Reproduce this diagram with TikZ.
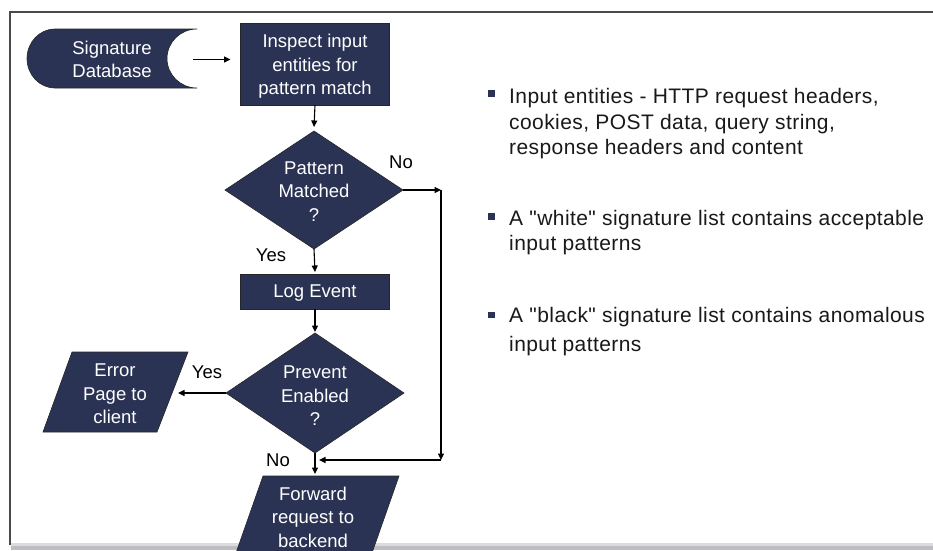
\documentclass[tikz,border=0pt]{standalone}
\usepackage{fontspec}
\setmainfont{Liberation Sans}
\newfontfamily\rtfont[LetterSpace=2.0]{Liberation Sans}
\usetikzlibrary{arrows.meta,shapes.geometric}
\definecolor{navy}{HTML}{2B3354}
\definecolor{framec}{HTML}{4A4A4A}
\definecolor{bandc}{HTML}{BDBDC4}
\definecolor{bandtop}{HTML}{DCDCDC}
\tikzset{
  flowfill/.style={fill=navy, draw=black!85, line width=0.6pt},
  boxnode/.style={flowfill, rectangle, inner sep=0pt, outer sep=0pt},
  dianode/.style={flowfill, diamond, inner sep=0pt, outer sep=0pt},
  txtw/.style={text=white, align=center, inner sep=0pt, font=\fontsize{18.5}{23.5}\selectfont},
  lab/.style={text=black, inner sep=0pt, font=\fontsize{18.5}{22}\selectfont},
  rt/.style={anchor=base west, inner sep=0pt, text=black!90, font=\rtfont\fontsize{21}{25}\selectfont},
  arr/.style={-{Triangle[length=6.5pt,width=6pt]}, line width=1.1pt, black},
  bul/.style={fill=navy}
}
\begin{document}
\begin{tikzpicture}[x=1pt,y=1pt]
\useasboundingbox (0,0) rectangle (933,-550);
\clip (0,0) rectangle (933,-550);
\fill[white] (0,0) rectangle (933,-550);
% frame and bottom band
\draw[color=framec, line width=2pt] (10,-545) -- (10,-12) -- (933,-12);
\fill[bandc] (11,-543) rectangle (933,-550);
\fill[bandtop] (11,-543) rectangle (933,-545.5);

% Signature database (stored data shape)
\path[flowfill] (55,-29) -- (197,-29)
  arc[start angle=90, end angle=270, x radius=30, y radius=29.5]
  -- (55,-88)
  arc[start angle=270, end angle=90, x radius=28, y radius=29.5] -- cycle;
\node[txtw, minimum width=170pt, minimum height=59pt] (sig) at (112,-59.5) {Signature\\Database};

% Inspect
\node[boxnode, minimum width=149pt, minimum height=82pt] (insp) at (315,-64) {};
\node[txtw] (inspt) at (315,-66.5) {Inspect input\\entities for\\pattern match};

% Pattern matched diamond
\node[dianode, minimum width=178pt, minimum height=118pt] (pm) at (314,-190) {};
\node[txtw] (pmt) at (314,-191.5) {Pattern\\Matched\\?};

% Log event
\node[boxnode, minimum width=149pt, minimum height=35pt] (log) at (315,-291.5) {};
\node[txtw] (logt) at (315,-293) {Log Event};

% Prevent enabled diamond
\node[dianode, minimum width=178pt, minimum height=120pt] (pe) at (315,-393) {};
\node[txtw] (pet) at (315,-396) {Prevent\\Enabled\\?};

% Error page parallelogram
\path[flowfill] (72,-352) -- (188,-352) -- (157,-432) -- (43,-432) -- cycle;
\node[txtw] (err) at (115,-394) {Error\\Page to\\client};

% Forward parallelogram
\path[flowfill] (263,-476) -- (399,-476) -- (366,-570) -- (230,-570) -- cycle;
\node[txtw] (fwd) at (313,-517) {Forward\\request to\\backend};

% labels
\node[lab] (no1) at (401,-162) {No};
\node[lab] (yes1) at (271,-255) {Yes};
\node[lab] (yes2) at (207,-372) {Yes};
\node[lab] (no2) at (278,-460) {No};

% helper coordinates
\coordinate (errin) at (178,-393);
\coordinate (fwdin) at (315,-474);
\coordinate (c1) at (441,-190);
\coordinate (c2) at (441,-460);
\coordinate (c3) at (319,-460);

% connectors
\draw[arr] ([xshift=-4pt]sig.east) -- ([xshift=-10pt]insp.west |- sig.east);
\draw[arr] (insp.south) -- ([yshift=4pt]pm.north);
\draw[arr] (pm.south) -- ([yshift=2pt]log.north);
\draw[arr] (log.south) -- ([yshift=1pt]pe.north);
\draw[arr] (pe.west) -- (errin);
\draw[arr] (pe.south) -- (fwdin);
\draw[arr] (pm.east) -- (c1);
\draw[arr] (c1) -- (c2);
\draw[arr] (c2) -- (c3);

% bullets and right text
\fill[bul] (488,-90) rectangle (495,-96.5);
\fill[bul] (488,-213) rectangle (495,-219.5);
\fill[bul] (488,-311.5) rectangle (495,-318);
\node[rt] (t1) at (509,-103.3) {Input entities - HTTP request headers,};
\node[rt] (t2) at (509,-129.3) {cookies, POST data, query string,};
\node[rt] (t3) at (509,-154) {response headers and content};
\node[rt] (t4) at (509,-225.7) {A {\char34}white{\char34} signature list contains acceptable};
\node[rt] (t5) at (509,-250) {input patterns};
\node[rt] (t6) at (509,-322.7) {A {\char34}black{\char34} signature list contains anomalous};
\node[rt] (t7) at (509,-351.7) {input patterns};
\end{tikzpicture}
\end{document}
